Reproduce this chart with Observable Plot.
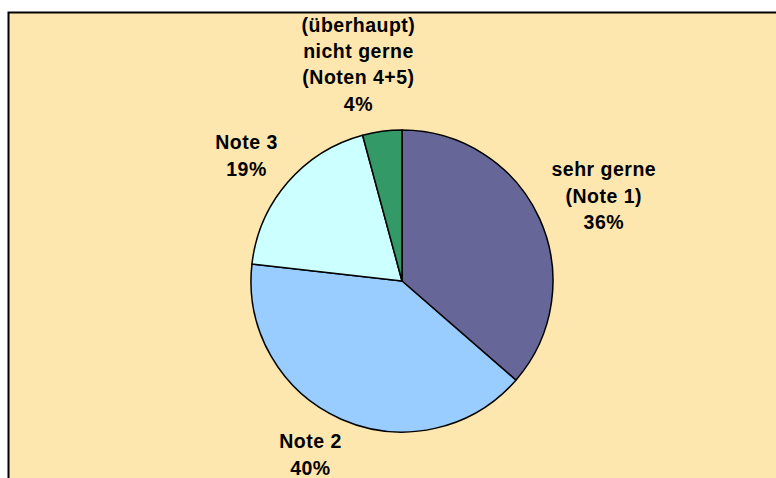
<!DOCTYPE html>
<html>
<head>
<meta charset="utf-8">
<script src="https://cdn.jsdelivr.net/npm/d3@7"></script>
<script src="https://cdn.jsdelivr.net/npm/@observablehq/plot@0.6"></script>
<style>
  html, body { margin: 0; padding: 0; background: white; overflow: hidden; }
</style>
</head>
<body>
<div id="chart"></div>
<script>
// ---- data ----
const categories = [
  "sehr gerne\n(Note 1)",
  "Note 2",
  "Note 3",
  "(überhaupt)\nnicht gerne\n(Noten 4+5)"
];
const values = [36.4, 40.4, 19.0, 4.2];
const colors = ["#666699", "#99CCFF", "#CCFFFF", "#339966"];

// ---- layout ----
const W = 776, H = 478;
const cx = 402, cy = 281, r = 151;
const fontSize = 19.5, lineHeight = 1.35, letterSpacing = 0.5;
const labelR = 166;

const total = d3.sum(values);
const rows = categories.map((c, i) => ({cat: c, value: values[i]}));
const arcs = d3.pie().sort(null).value(d => d.value).startAngle(0)(rows);

const color = Plot.scale({color: {type: "ordinal", domain: categories, range: colors}});

// text measurement
const ctx = document.createElement("canvas").getContext("2d");
ctx.font = `bold ${fontSize}px "Liberation Sans", Arial, sans-serif`;
function textWidth(s) { return ctx.measureText(s).width + letterSpacing * s.length; }

const labels = arcs.map(a => {
  const text = `${a.data.cat}\n${Math.round(a.data.value / total * 100)}%`;
  const lines = text.split("\n");
  const hw = d3.max(lines, textWidth) / 2;
  const hh = lines.length * fontSize * lineHeight / 2;
  const mid = (a.startAngle + a.endAngle) / 2;
  const dx = Math.sin(mid), dy = -Math.cos(mid);
  return {
    text,
    x: cx + dx * (labelR + hw) + Math.sign(dx) * 15 * dy * dy,
    y: Math.min(cy + dy * (labelR + hh) - 2, H - hh + 1)
  };
});

const pieMark = (index, scales) => {
  const g = d3.create("svg:g");
  const px = scales.x(cx), py = scales.y(cy);
  const pr = scales.x(cx + r) - px;
  const arcGen = d3.arc().innerRadius(0).outerRadius(pr);
  g.selectAll("path")
    .data(arcs)
    .join("path")
    .attr("transform", `translate(${px},${py})`)
    .attr("d", arcGen)
    .attr("fill", d => color.apply(d.data.cat))
    .attr("stroke", "black")
    .attr("stroke-width", 1.5)
    .attr("stroke-linejoin", "round");
  return g.node();
};

const chart = Plot.plot({
  width: W,
  height: H,
  margin: 0,
  x: {domain: [0, W], range: [0, W], axis: null},
  y: {domain: [0, H], range: [0, H], axis: null},
  style: {background: "white", letterSpacing: `${letterSpacing}px`, overflow: "hidden"},
  marks: [
    Plot.frame({fill: "#FDE7AE", stroke: "black", strokeWidth: 2, insetLeft: 8, insetTop: 12, insetRight: -6, insetBottom: -6}),
    pieMark,
    Plot.text(labels, {
      x: "x", y: "y", text: "text",
      fontSize, fontWeight: "bold",
      fontFamily: "'Liberation Sans', Arial, sans-serif",
      lineHeight, fill: "black"
    })
  ]
});
document.getElementById("chart").appendChild(chart);
</script>
</body>
</html>
